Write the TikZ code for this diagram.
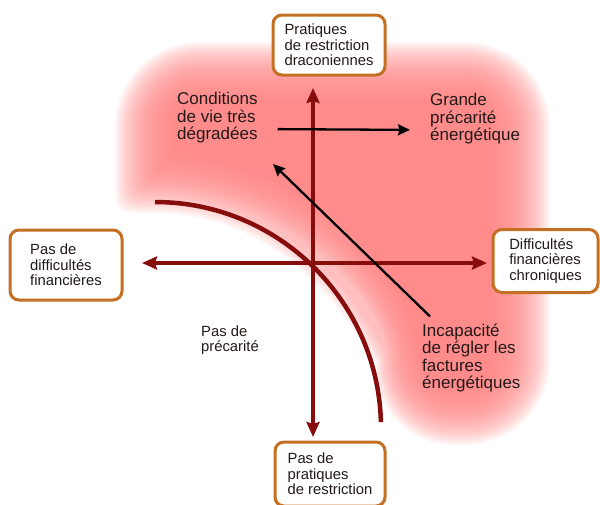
\documentclass[tikz,border=0pt]{standalone}
\usepackage{fontspec}
\setmainfont{Liberation Sans}
\usetikzlibrary{arrows.meta}

\definecolor{glowred}{RGB}{255,127,127}
\definecolor{axisred}{RGB}{135,12,12}
\definecolor{boxorange}{RGB}{196,112,36}
\definecolor{labeltext}{RGB}{35,25,25}

\newcommand{\boxfont}{\fontsize{14.8}{15.6}\selectfont}
\newcommand{\labfont}{\fontsize{17}{17.6}\selectfont}

\begin{document}
\begin{tikzpicture}[x=1pt,y=-1pt,
    axis/.style={axisred, line width=4pt, {Stealth[length=15pt,width=13pt,inset=2pt]}-{Stealth[length=15pt,width=13pt,inset=2pt]}},
    shift arrow/.style={black, line width=2.3pt, -{Stealth[length=12pt,width=11pt,inset=1.5pt]}},
    quadbox/.style={draw=boxorange, line width=3pt, rounded corners=9pt, fill=white, align=left, font=\boxfont, text=labeltext, inner sep=0pt},
    zone/.style={align=left, font=\labfont, text=labeltext, inner sep=0pt, anchor=west}]
  \useasboundingbox (0,0) rectangle (600,504);

  % Glow behind the upper right zone
  \foreach \d in {-30,-28,...,30}{
    \pgfmathsetmacro{\r}{245-\d}
    \pgfmathsetmacro{\xl}{145-\d}
    \pgfmathsetmacro{\yt}{72-\d}
    \pgfmathsetmacro{\xr}{520+\d}
    \pgfmathsetmacro{\yb}{415+\d}
    \pgfmathsetmacro{\ta}{asin((428-\yb)/\r)}
    \pgfmathsetmacro{\te}{min(90,acos((\xl-155)/\r))}
    \pgfmathsetmacro{\xa}{155+\r*cos(\ta)}
    \pgfmathsetmacro{\ye}{428-\r*sin(\te)}
    \pgfmathsetmacro{\rc}{55+\d}
    \fill[glowred, fill opacity=0.075]
      (\xa,\yb) arc[start angle=\ta, end angle=\te, radius=\r pt]
      .. controls (\xl,\ye) .. (\xl,\ye-40)
      [rounded corners=\rc pt] -- (\xl,\yt) -- (\xr,\yt) -- (\xr,\yb) -- cycle;
  }

  % Axes
  \coordinate (axtop) at (313,88);
  \coordinate (axbottom) at (313,437);
  \coordinate (axleft) at (142,263);
  \coordinate (axright) at (487,263);
  \draw[axis] (axbottom) -- (axtop);
  \draw[axis] (axleft) -- (axright);

  % Limit of precarity
  \draw[axisred, line width=4.5pt] (155,202) arc[start angle=90, end angle=1.5, radius=226pt];

  % Boxes at the ends of the axes
  \node[quadbox, minimum width=112pt, minimum height=60pt] (restrict) at (329,45) {Pratiques\\de restriction\\draconiennes};
  \node[quadbox, minimum width=112pt, minimum height=70pt] (nodebt) at (66,265) {Pas de\\difficultés\\financières};
  \node[quadbox, minimum width=105pt, minimum height=63pt] (chronic) at (545.5,261) {Difficultés\\financières\\chroniques};
  \node[quadbox, minimum width=110pt, minimum height=64pt] (norestrict) at (330,474) {Pas de\\pratiques\\de restriction};

  % Zones
  \node[zone] (worse) at (177,118) {Conditions\\de vie très\\dégradées};
  \node[zone] (severe) at (430,119) {Grande\\précarité\\énergétique};
  \node[zone] (unpaid) at (422,358) {Incapacité\\de régler les\\factures\\énergétiques};
  \node[zone, font=\boxfont] (safe) at (201,340) {Pas de\\précarité};

  % Shifts
  \coordinate (billto) at (273,164);
  \draw[shift arrow, shorten <=20pt, shorten >=20pt] ([yshift=-11pt]worse.east) -- ([yshift=-11pt]severe.west);
  \draw[shift arrow] ([shift={(8,-7)}]unpaid.north west) -- (billto);
\end{tikzpicture}
\end{document}
